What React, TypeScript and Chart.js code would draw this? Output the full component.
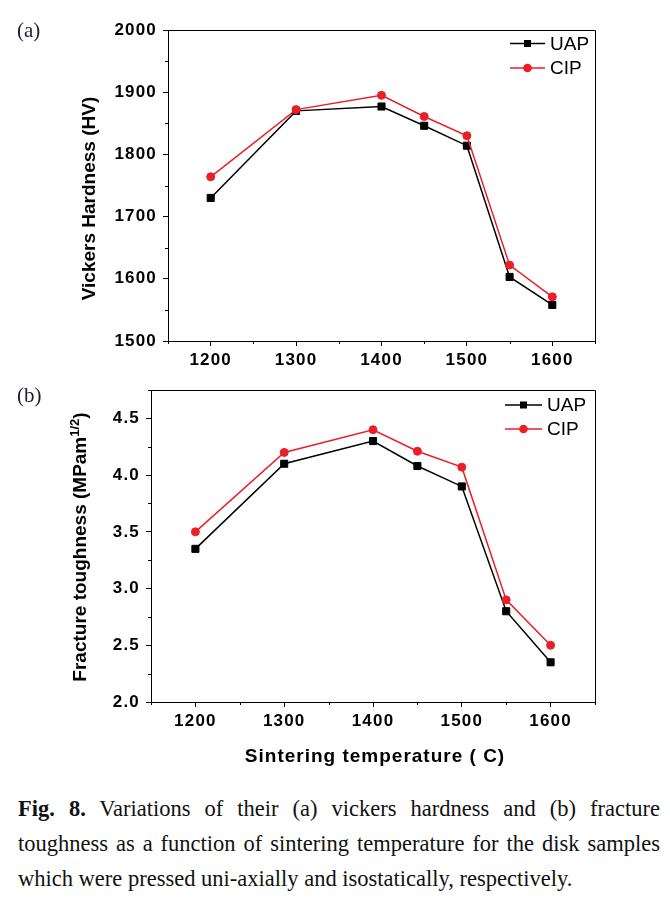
import { useEffect, useRef } from 'react';
import { Chart, registerables } from 'chart.js';

Chart.register(...registerables);

// ---------------- data ----------------
const temperatures = [1200, 1300, 1400, 1450, 1500, 1550, 1600];
const hardnessUAP = [1730, 1870, 1877, 1846, 1814, 1603, 1558];
const hardnessCIP = [1764, 1872, 1895, 1861, 1830, 1622, 1571];
const toughnessUAP = [3.35, 4.1, 4.3, 4.08, 3.9, 2.8, 2.35];
const toughnessCIP = [3.5, 4.2, 4.4, 4.21, 4.07, 2.9, 2.5];
const seriesNames = ['UAP', 'CIP'];
const xTickLabels = [1200, 1300, 1400, 1500, 1600];
const hardnessTickLabels = [1500, 1600, 1700, 1800, 1900, 2000];
const toughnessTickLabels = [2.0, 2.5, 3.0, 3.5, 4.0, 4.5];

const BLACK = '#000000';
const RED = '#ea1f27';
const SANS = '"Liberation Sans", Arial, Helvetica, sans-serif';

const near = (list: number[], v: number) => list.some((t) => Math.abs(t - v) < 1e-6);

interface TitlePart { text: string; size: number; dy: number }
interface DecorConfig {
  majorX: number[];
  majorY: number[];
  yTitle: TitlePart[];
  yTitleBaseX: number;
  yTitleCenterY: number;
  xTitle?: string;
  xTitleCenterX?: number;
  xTitleBaseY?: number;
  legend: { lineStart: number; lineEnd: number; textX: number; rows: number[] };
}

function makeDecor(cfg: DecorConfig) {
  return {
    id: 'figureDecor',
    beforeDraw(chart: any) {
      chart.ctx.letterSpacing = '1.2px';
    },
    afterDraw(chart: any) {
      const ctx: CanvasRenderingContext2D = chart.ctx;
      const { left, top, right, bottom } = chart.chartArea;
      ctx.save();
      (ctx as any).letterSpacing = '0px';
      // frame: top and right sides
      ctx.strokeStyle = BLACK;
      ctx.lineWidth = 1;
      ctx.beginPath();
      const ty = Math.round(top) + 0.5;
      const rx = Math.round(right) + 0.5;
      ctx.moveTo(left, ty);
      ctx.lineTo(rx, ty);
      ctx.lineTo(rx, bottom);
      ctx.stroke();
      // minor ticks
      const xs = chart.scales.x;
      const ys = chart.scales.y;
      ctx.beginPath();
      xs.ticks.forEach((t: any) => {
        if (near(cfg.majorX, t.value)) return;
        const px = Math.round(xs.getPixelForValue(t.value)) + 0.5;
        ctx.moveTo(px, xs.top);
        ctx.lineTo(px, xs.top + 3);
      });
      ys.ticks.forEach((t: any) => {
        if (near(cfg.majorY, t.value)) return;
        const py = Math.round(ys.getPixelForValue(t.value)) + 0.5;
        ctx.moveTo(ys.right, py);
        ctx.lineTo(ys.right - 3, py);
      });
      ctx.stroke();

      // y axis title (rotated)
      ctx.fillStyle = BLACK;
      ctx.textBaseline = 'alphabetic';
      ctx.textAlign = 'left';
      let total = 0;
      cfg.yTitle.forEach((p) => {
        ctx.font = `bold ${p.size}px ${SANS}`;
        total += ctx.measureText(p.text).width;
      });
      ctx.save();
      ctx.translate(cfg.yTitleBaseX, cfg.yTitleCenterY);
      ctx.rotate(-Math.PI / 2);
      let u = -total / 2;
      cfg.yTitle.forEach((p) => {
        ctx.font = `bold ${p.size}px ${SANS}`;
        ctx.fillText(p.text, u, p.dy);
        u += ctx.measureText(p.text).width;
      });
      ctx.restore();

      // x axis title
      if (cfg.xTitle) {
        (ctx as any).letterSpacing = '1px';
        ctx.font = `bold 19px ${SANS}`;
        ctx.textAlign = 'center';
        ctx.fillText(cfg.xTitle, cfg.xTitleCenterX!, cfg.xTitleBaseY!);
        (ctx as any).letterSpacing = '0px';
      }

      // legend
      const lg = cfg.legend;
      chart.data.datasets.forEach((ds: any, i: number) => {
        const y = top + lg.rows[i];
        const x1 = right - lg.lineStart;
        const x2 = right - lg.lineEnd;
        ctx.strokeStyle = ds.borderColor;
        ctx.fillStyle = ds.borderColor;
        ctx.lineWidth = 1.5;
        ctx.beginPath();
        ctx.moveTo(x1, y);
        ctx.lineTo(x2, y);
        ctx.stroke();
        const cx = (x1 + x2) / 2;
        ctx.beginPath();
        if (ds.pointStyle === 'rect') {
          ctx.rect(cx - 3.5, y - 3.5, 7, 7);
        } else {
          ctx.arc(cx, y, 4.3, 0, Math.PI * 2);
        }
        ctx.fill();
        ctx.fillStyle = BLACK;
        ctx.font = `19px ${SANS}`;
        ctx.textAlign = 'left';
        ctx.textBaseline = 'middle';
        ctx.fillText(ds.label, right - lg.textX, y + 1);
      });
      ctx.restore();
    },
  };
}

function makeDatasets(uap: number[], cip: number[]) {
  return [
    {
      label: seriesNames[0],
      data: temperatures.map((t, i) => ({ x: t, y: uap[i] })),
      borderColor: BLACK,
      backgroundColor: BLACK,
      pointBackgroundColor: BLACK,
      pointBorderColor: BLACK,
      pointStyle: 'rect',
      pointRadius: 5,
      pointBorderWidth: 1,
      borderWidth: 1.5,
      tension: 0,
      order: 1,
    },
    {
      label: seriesNames[1],
      data: temperatures.map((t, i) => ({ x: t, y: cip[i] })),
      borderColor: RED,
      backgroundColor: RED,
      pointBackgroundColor: RED,
      pointBorderColor: RED,
      pointStyle: 'circle',
      pointRadius: 4,
      pointBorderWidth: 1,
      borderWidth: 1.5,
      tension: 0,
      order: 0,
    },
  ];
}

const tickFont = { family: SANS, size: 17, weight: 'bold' as const, lineHeight: 1.2 };

function makeConfig(opts: {
  uap: number[];
  cip: number[];
  yMin: number;
  yMax: number;
  yStep: number;
  yLabels: number[];
  yFormat: (v: number) => string;
  padTop: number;
  yWidth: number;
  xHeight: number;
  decor: DecorConfig;
}): any {
  return {
    type: 'line',
    data: { datasets: makeDatasets(opts.uap, opts.cip) },
    options: {
      responsive: false,
      animation: false,
      events: [],
      layout: { padding: { top: opts.padTop, right: 75, left: 0, bottom: 0 } },
      plugins: { legend: { display: false }, tooltip: { enabled: false }, title: { display: false } },
      scales: {
        x: {
          type: 'linear',
          min: 1150,
          max: 1650,
          afterFit: (s: any) => {
            s.height = opts.xHeight;
            s.paddingLeft = 0;
            s.paddingRight = 0;
            s.paddingTop = 0;
            s.paddingBottom = 0;
          },
          ticks: {
            stepSize: 50,
            autoSkip: false,
            maxRotation: 0,
            padding: 4,
            color: BLACK,
            font: tickFont,
            callback: (v: number) => (near(xTickLabels, v) ? String(v) : ''),
          },
          grid: {
            drawOnChartArea: false,
            drawTicks: true,
            tickLength: 5,
            tickWidth: 1,
            tickColor: (c: any) => (c.tick && near(xTickLabels, c.tick.value) ? BLACK : 'rgba(0,0,0,0)'),
          },
          border: { display: true, color: BLACK, width: 1 },
        },
        y: {
          type: 'linear',
          min: opts.yMin,
          max: opts.yMax,
          afterFit: (s: any) => {
            s.width = opts.yWidth;
            s.paddingTop = 0;
            s.paddingBottom = 0;
            s.paddingLeft = 0;
            s.paddingRight = 0;
          },
          ticks: {
            stepSize: opts.yStep,
            autoSkip: false,
            padding: 6,
            color: BLACK,
            font: tickFont,
            callback: (v: number) => (near(opts.yLabels, v) ? opts.yFormat(v) : ''),
          },
          grid: {
            drawOnChartArea: false,
            drawTicks: true,
            tickLength: 5,
            tickWidth: 1,
            tickColor: (c: any) => (c.tick && near(opts.yLabels, c.tick.value) ? BLACK : 'rgba(0,0,0,0)'),
          },
          border: { display: true, color: BLACK, width: 1 },
        },
      },
    },
    plugins: [makeDecor(opts.decor)],
  };
}

export default function App() {
  const refA = useRef<HTMLCanvasElement>(null);
  const refB = useRef<HTMLCanvasElement>(null);

  useEffect(() => {
    const cfgA = makeConfig({
      uap: hardnessUAP,
      cip: hardnessCIP,
      yMin: 1500,
      yMax: 2000,
      yStep: 50,
      yLabels: hardnessTickLabels,
      yFormat: (v) => String(v),
      padTop: 30,
      yWidth: 168,
      xHeight: 39,
      decor: {
        majorX: xTickLabels,
        majorY: hardnessTickLabels,
        yTitle: [{ text: 'Vickers Hardness (HV)', size: 19, dy: 0 }],
        yTitleBaseX: 95,
        yTitleCenterY: 198.5,
        legend: { lineStart: 85, lineEnd: 50, textX: 45, rows: [13.5, 38] },
      },
    });
    const cfgB = makeConfig({
      uap: toughnessUAP,
      cip: toughnessCIP,
      yMin: 2.0,
      yMax: 4.75,
      yStep: 0.25,
      yLabels: toughnessTickLabels,
      yFormat: (v) => v.toFixed(1),
      padTop: 10,
      yWidth: 151,
      xHeight: 78,
      decor: {
        majorX: xTickLabels,
        majorY: toughnessTickLabels,
        yTitle: [
          { text: 'Fracture toughness (MPam', size: 19, dy: 0 },
          { text: '1/2', size: 13, dy: -7 },
          { text: ')', size: 19, dy: 0 },
        ],
        yTitleBaseX: 86,
        yTitleCenterY: 167,
        xTitle: 'Sintering temperature ( C)',
        xTitleCenterX: 375,
        xTitleBaseY: 381.5,
        legend: { lineStart: 90, lineEnd: 53, textX: 48, rows: [15, 39] },
      },
    });
    const a = new Chart(refA.current!, cfgA);
    const b = new Chart(refB.current!, cfgB);
    return () => {
      a.destroy();
      b.destroy();
    };
  }, []);

  const serif = '"Liberation Serif", "Times New Roman", Times, serif';
  return (
    <div
      style={{
        position: 'absolute',
        left: 0,
        top: 0,
        width: 670,
        height: 908,
        background: '#ffffff',
        overflow: 'hidden',
      }}
    >
      <canvas ref={refA} width={670} height={380} style={{ position: 'absolute', left: 0, top: 0 }} />
      <canvas ref={refB} width={670} height={400} style={{ position: 'absolute', left: 0, top: 380 }} />
      <div
        style={{
          position: 'absolute',
          left: 17,
          top: 20,
          fontFamily: serif,
          fontSize: 21,
          lineHeight: '21px',
          color: '#1a1f33',
        }}
      >
        (a)
      </div>
      <div
        style={{
          position: 'absolute',
          left: 17,
          top: 385,
          fontFamily: serif,
          fontSize: 21,
          lineHeight: '21px',
          color: '#1a1f33',
        }}
      >
        (b)
      </div>
      <div
        style={{
          position: 'absolute',
          left: 18,
          top: 791,
          width: 642,
          fontFamily: serif,
          fontSize: 22.5,
          lineHeight: '35px',
          textAlign: 'justify',
          color: '#111111',
        }}
      >
        <b>Fig. 8.</b> Variations of their (a) vickers hardness and (b) fracture toughness as a function of
        sintering temperature for the disk samples which were pressed uni-axially and isostatically,
        respectively.
      </div>
    </div>
  );
}
